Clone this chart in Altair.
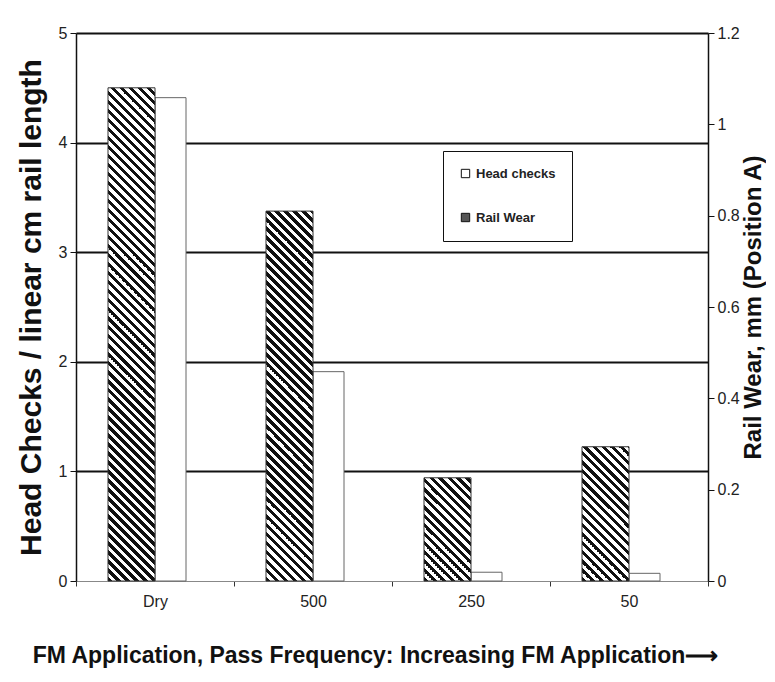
import altair as alt
import pandas as pd

# ---- data ----
categories = ["Dry", "500", "250", "50"]
head_checks = [4.41, 1.91, 0.08, 0.07]          # left axis
rail_wear = [1.08, 0.81, 0.226, 0.294]          # right axis (mm)
series_names = ["Head checks", "Rail Wear"]
left_ticks = [0, 1, 2, 3, 4, 5]
right_ticks = [0, 0.2, 0.4, 0.6, 0.8, 1.0, 1.2]

x_title = "FM Application, Pass Frequency: Increasing FM Application\u27f6"
left_title = "Head Checks / linear cm rail length"
right_title = "Rail Wear, mm (Position A)"

# ---- styling / layout ----
PLOT_W, PLOT_H = 632, 548
RAIL_BAR_W, HEAD_BAR_W = 47, 31
HATCH_PERIOD = 9.0
DARK = "#111111"
FONT = "Liberation Sans, Arial, sans-serif"


def hatch_fill(value, ymax=1.2):
    """Diagonal (top-left to bottom-right) hatch as a linear gradient in bbox units."""
    h = value / ymax * PLOT_H
    w = RAIL_BAR_W
    d = w + h * h / w
    stops = []
    s = 0.0
    while s < w + h + HATCH_PERIOD:
        a = min(s / d, 1.0)
        b = min((s + HATCH_PERIOD * 0.55) / d, 1.0)
        c = min((s + HATCH_PERIOD) / d, 1.0)
        stops += [
            {"offset": a, "color": DARK},
            {"offset": b, "color": DARK},
            {"offset": b, "color": "white"},
            {"offset": c, "color": "white"},
        ]
        s += HATCH_PERIOD
    return {"gradient": "linear", "x1": 0, "y1": 1, "x2": 1, "y2": 1 - h / w, "stops": stops}


df = pd.DataFrame({"cat": categories, "head": head_checks, "rail": rail_wear})

x_enc = alt.X(
    "cat:N",
    sort=categories,
    scale=alt.Scale(paddingInner=0, paddingOuter=0),
    axis=alt.Axis(
        title=x_title,
        labelAngle=0,
        tickBand="extent",
        tickSize=5,
        tickColor="#333",
        domainColor="#888",
        domainWidth=1,
        labelPadding=7,
        labelFont=FONT,
        labelFontSize=16,
        labelColor="#222",
        titleFont=FONT,
        titleFontSize=23,
        titleFontWeight="bold",
        titleColor="#111",
        titlePadding=35,
        titleX=299,
        grid=False,
    ),
)

head_layer = (
    alt.Chart(df)
    .transform_calculate(series="'Head checks'")
    .mark_bar(width=HEAD_BAR_W, xOffset=HEAD_BAR_W / 2, stroke="#666", strokeWidth=1)
    .encode(
        x=x_enc,
        y=alt.Y(
            "head:Q",
            scale=alt.Scale(domain=[0, 5], nice=False),
            axis=alt.Axis(
                title=left_title,
                values=left_ticks,
                orient="left",
                grid=True,
                gridColor=DARK,
                gridWidth=2,
                gridOpacity={"condition": {"test": "datum.value === 0", "value": 0}, "value": 1},
                domainColor=DARK,
                domainWidth=1.5,
                tickColor=DARK,
                tickSize=6,
                labelPadding=3,
                labelFont=FONT,
                labelFontSize=16,
                labelColor="#222",
                titleFont=FONT,
                titleFontSize=30,
                titleFontWeight="bold",
                titleColor="#111",
                titlePadding=12,
            ),
        ),
        fill=alt.Fill(
            "series:N",
            scale=alt.Scale(domain=series_names, range=["white", "#555555"]),
            legend=alt.Legend(
                title=None,
                orient="none",
                legendX=367,
                legendY=118,
                strokeColor=DARK,
                padding=16,
                rowPadding=30,
                symbolType="square",
                symbolSize=70,
                symbolStrokeColor=DARK,
                symbolStrokeWidth=1,
                labelFont=FONT,
                labelFontSize=13,
                labelFontWeight="bold",
                labelColor="#222",
            ),
        ),
    )
)

rail_fill = {
    "condition": [
        {"test": f"datum.cat === '{c}'", "value": hatch_fill(v)}
        for c, v in zip(categories[:-1], rail_wear[:-1])
    ],
    "value": hatch_fill(rail_wear[-1]),
}

rail_layer = (
    alt.Chart(df)
    .mark_bar(width=RAIL_BAR_W, xOffset=-RAIL_BAR_W / 2, stroke="#333", strokeWidth=1)
    .encode(
        x=x_enc,
        y=alt.Y(
            "rail:Q",
            scale=alt.Scale(domain=[0, 1.2], nice=False),
            axis=alt.Axis(
                title=right_title,
                values=right_ticks,
                format="~g",
                orient="right",
                grid=False,
                domainColor=DARK,
                domainWidth=1.5,
                tickColor=DARK,
                tickSize=6,
                labelPadding=3,
                labelFont=FONT,
                labelFontSize=16,
                labelColor="#222",
                titleFont=FONT,
                titleFontSize=24,
                titleFontWeight="bold",
                titleColor="#111",
                titleAngle=270,
                titlePadding=26,
            ),
        ),
        fill=rail_fill,
    )
)

chart = (
    alt.layer(head_layer, rail_layer)
    .resolve_scale(y="independent")
    .properties(
        width=PLOT_W,
        height=PLOT_H,
        autosize=alt.AutoSizeParams(type="none"),
        padding={"left": 68, "top": 25, "right": 58, "bottom": 87},
    )
    .configure_view(stroke=None)
    .configure(background="white")
)

chart.save("out.html", embed_options={"renderer": "svg", "actions": False})
